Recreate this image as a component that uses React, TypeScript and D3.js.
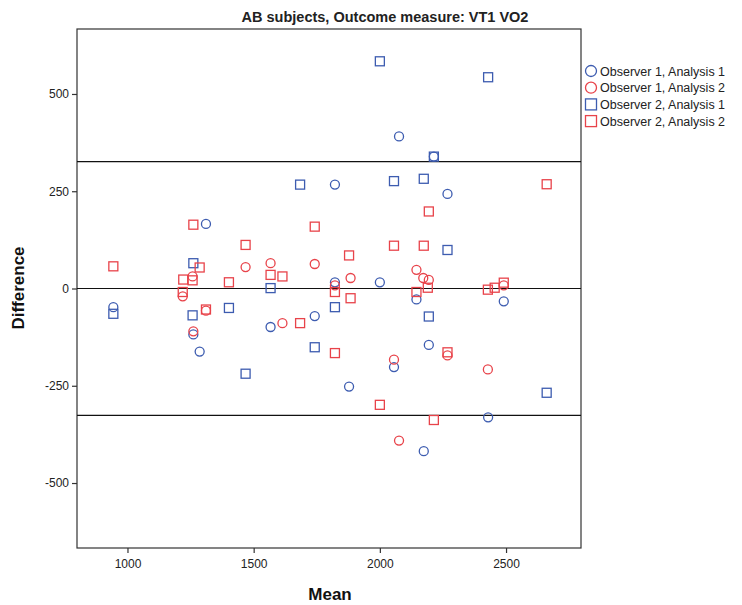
import React, { useEffect, useRef } from 'react';
import * as d3 from 'd3';

// [mean, difference] pairs
const obs1An1: [number, number][] = [
  [944, -48], [1311, 166], [1261, -118], [1286, -162], [1822, 267], [1822, 16],
  [2000, 16], [1742, -71], [1567, -99], [2056, -202], [1878, -252], [2214, 339],
  [2268, 243], [2145, -28], [2491, -33], [2194, -145], [2076, 391], [2174, -418],
  [2429, -331],
];
const obs1An2: [number, number][] = [
  [1468, 55], [1258, 31], [1219, -20], [1311, -57], [1261, -110], [1567, 65],
  [1742, 63], [1884, 27], [1822, 8], [1614, -89], [2056, -183], [2145, 48],
  [2172, 27], [2194, 22], [2491, 8], [2268, -172], [2428, -208], [2076, -391],
];
const obs2An1: [number, number][] = [
  [944, -65], [1261, 65], [1402, -50], [1258, -69], [1468, -219], [1684, 267],
  [2056, 276], [1567, 1], [1822, -48], [1742, -151], [2214, 339], [2174, 282],
  [2268, 99], [2194, -72], [2661, -268], [2000, 584], [2429, 543],
];
const obs2An2: [number, number][] = [
  [1261, 164], [1468, 112], [944, 57], [1286, 54], [1221, 23], [1258, 21],
  [1402, 16], [1219, -9], [1311, -54], [1742, 159], [2056, 110], [1878, 85],
  [1567, 35], [1614, 31], [1822, -9], [1884, -25], [1684, -89], [1822, -166],
  [2661, 268], [2194, 198], [2174, 110], [2190, 2], [2145, -9], [2428, -3],
  [2455, 2], [2491, 15], [2268, -164], [2000, -299], [2214, -338],
];

const seriesNames = ['Observer 1, Analysis 1', 'Observer 1, Analysis 2', 'Observer 2, Analysis 1', 'Observer 2, Analysis 2'];
const refLines = [326, 0, -326];
const xTicks = [1000, 1500, 2000, 2500];
const yTicks = [-500, -250, 0, 250, 500];

const BLUE = '#3d5cb0';
const RED = '#e8434a';

export default function App() {
  const ref = useRef<SVGSVGElement>(null);

  useEffect(() => {
    const svg = d3.select(ref.current);
    svg.selectAll('*').remove();

    const left = 77, right = 581, top = 29, bottom = 548;
    const x = d3.scaleLinear().domain([800, 2797]).range([left, right]);
    const y = d3.scaleLinear().domain([-667, 667]).range([bottom, top]);
    const font = 'Liberation Sans, Arial, sans-serif';

    svg.append('text')
      .attr('x', 385).attr('y', 22)
      .attr('text-anchor', 'middle')
      .attr('font-family', font).attr('font-weight', 'bold').attr('font-size', 14.5)
      .attr('fill', '#222')
      .text('AB subjects, Outcome measure: VT1 VO2');

    svg.append('rect')
      .attr('x', left).attr('y', top)
      .attr('width', right - left).attr('height', bottom - top)
      .attr('fill', 'none').attr('stroke', '#333').attr('stroke-width', 1.2);

    const gx = svg.append('g').attr('transform', `translate(0,${bottom})`)
      .call(d3.axisBottom(x).tickValues(xTicks).tickSize(5).tickPadding(6).tickFormat(d => String(d)));
    const gy = svg.append('g').attr('transform', `translate(${left},0)`)
      .call(d3.axisLeft(y).tickValues(yTicks).tickSize(5).tickPadding(3).tickFormat(d => String(d)));
    [gx, gy].forEach(g => {
      g.select('.domain').remove();
      g.selectAll('line').attr('stroke', '#333').attr('stroke-width', 1.2);
      g.selectAll('text').attr('font-family', font).attr('font-size', 12).attr('fill', '#222');
    });

    svg.append('g').selectAll('line').data(refLines).enter().append('line')
      .attr('x1', left).attr('x2', right)
      .attr('y1', d => y(d)).attr('y2', d => y(d))
      .attr('stroke', '#111').attr('stroke-width', 1.1);

    const drawCircles = (data: [number, number][], color: string) => {
      svg.append('g').selectAll('circle').data(data).enter().append('circle')
        .attr('cx', d => x(d[0])).attr('cy', d => y(d[1])).attr('r', 4.5)
        .attr('fill', 'none').attr('stroke', color).attr('stroke-width', 1.3);
    };
    const drawSquares = (data: [number, number][], color: string) => {
      svg.append('g').selectAll('rect').data(data).enter().append('rect')
        .attr('x', d => x(d[0]) - 4.5).attr('y', d => y(d[1]) - 4.5)
        .attr('width', 9).attr('height', 9)
        .attr('fill', 'none').attr('stroke', color).attr('stroke-width', 1.3);
    };
    drawCircles(obs1An1, BLUE);
    drawCircles(obs1An2, RED);
    drawSquares(obs2An1, BLUE);
    drawSquares(obs2An2, RED);

    // legend
    const legend = svg.append('g');
    seriesNames.forEach((name, i) => {
      const cy = 71 + i * 16.7;
      const color = i % 2 === 0 ? BLUE : RED;
      if (i < 2) {
        legend.append('circle').attr('cx', 591).attr('cy', cy).attr('r', 5.5)
          .attr('fill', 'none').attr('stroke', color).attr('stroke-width', 1.3);
      } else {
        legend.append('rect').attr('x', 585.5).attr('y', cy - 5.5).attr('width', 11).attr('height', 11)
          .attr('fill', 'none').attr('stroke', color).attr('stroke-width', 1.3);
      }
      legend.append('text').attr('x', 600).attr('y', cy + 4.5)
        .attr('font-family', font).attr('font-size', 12.5).attr('fill', '#222')
        .text(name);
    });

    svg.append('text')
      .attr('x', 330).attr('y', 600)
      .attr('text-anchor', 'middle')
      .attr('font-family', font).attr('font-weight', 'bold').attr('font-size', 17)
      .attr('fill', '#111')
      .text('Mean');

    svg.append('text')
      .attr('transform', `translate(24,288) rotate(-90)`)
      .attr('text-anchor', 'middle')
      .attr('font-family', font).attr('font-weight', 'bold').attr('font-size', 17)
      .attr('fill', '#111')
      .text('Difference');
  }, []);

  return (
    <svg ref={ref} width={742} height={605}
      style={{ position: 'absolute', left: 0, top: 0, background: '#fff' }} />
  );
}
